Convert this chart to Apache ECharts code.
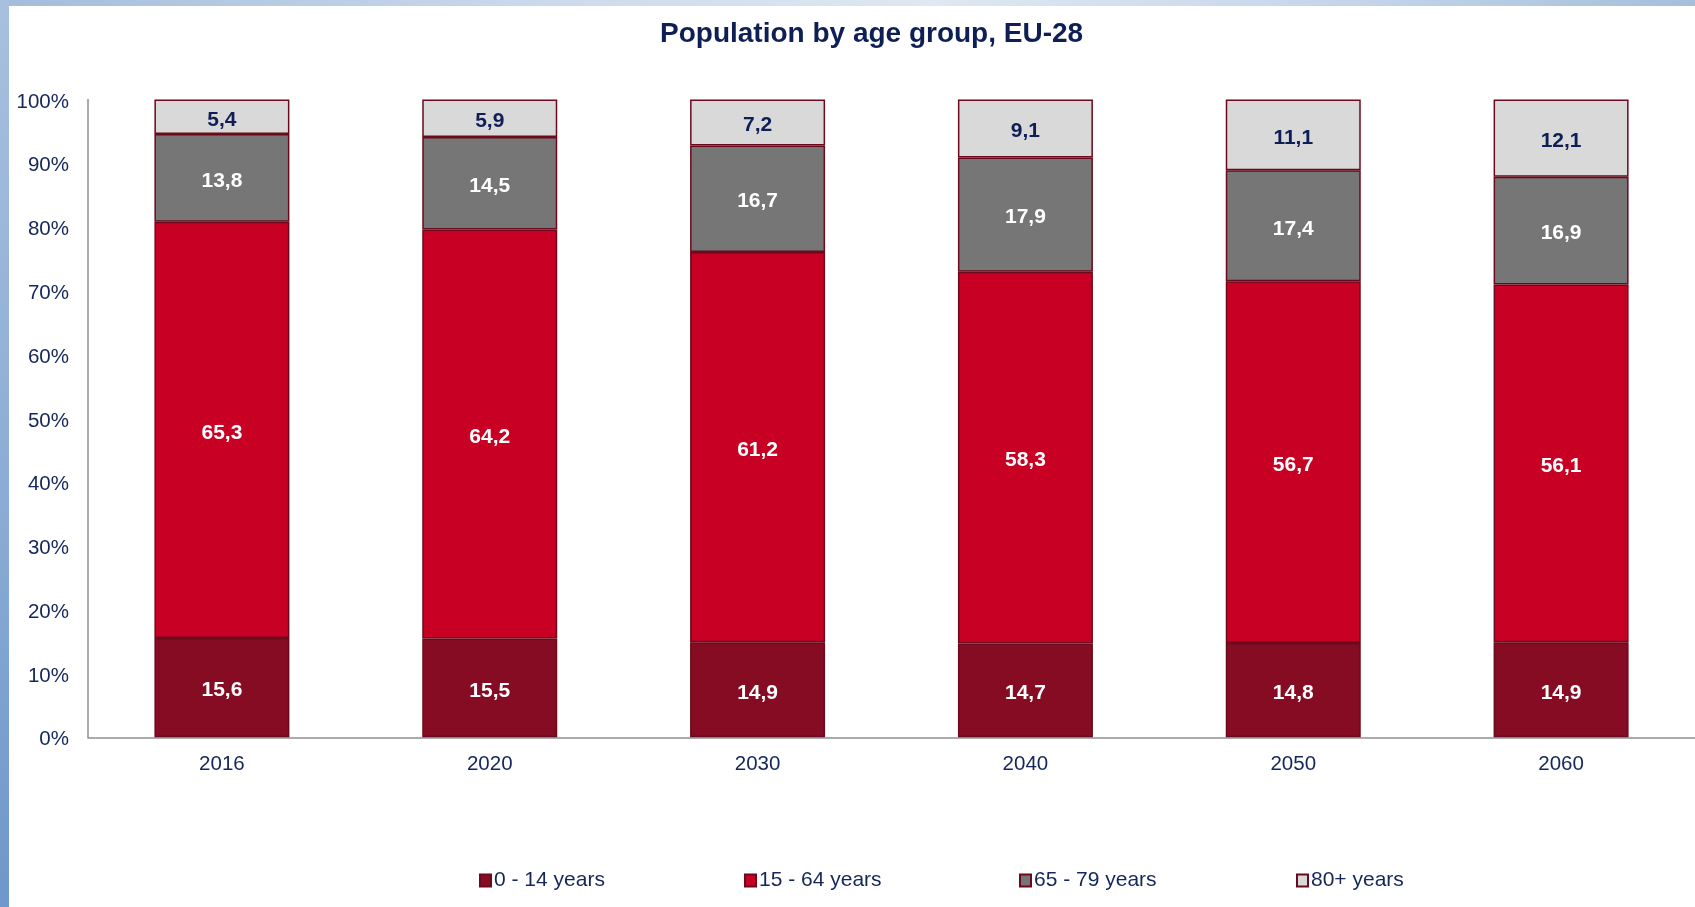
<!DOCTYPE html>
<html>
<head>
<meta charset="utf-8">
<script src="https://cdn.jsdelivr.net/npm/echarts@6/dist/echarts.min.js"></script>
<style>
  html, body { margin: 0; padding: 0; width: 1695px; height: 907px; background: #ffffff; overflow: hidden; }
  #topbar { position: absolute; left: 0; top: 0; width: 1695px; height: 6px;
    background: linear-gradient(to right, #a3bcdc 0%, #c9d8ea 30%, #dfe8f3 55%, #c4d5e9 80%, #a5bedc 100%); }
  #leftbar { position: absolute; left: 0; top: 0; width: 9px; height: 907px;
    background: linear-gradient(to bottom, #a8c0de 0%, #8eaed6 50%, #6e97cb 100%); }
  #chart { position: absolute; left: 0; top: 0; width: 1695px; height: 907px; }
</style>
</head>
<body>
<div id="topbar"></div>
<div id="leftbar"></div>
<div id="chart"></div>
<script>
const categories = ['2016', '2020', '2030', '2040', '2050', '2060'];
const seriesNames = ['0 - 14 years', '15 - 64 years', '65 - 79 years', '80+ years'];
const age0to14 = [15.6, 15.5, 14.9, 14.7, 14.8, 14.9];
const age15to64 = [65.3, 64.2, 61.2, 58.3, 56.7, 56.1];
const age65to79 = [13.8, 14.5, 16.7, 17.9, 17.4, 16.9];
const age80plus = [5.4, 5.9, 7.2, 9.1, 11.1, 12.1];
const yTicks = [0, 10, 20, 30, 40, 50, 60, 70, 80, 90, 100];

const rawSeries = [age0to14, age15to64, age65to79, age80plus];
const colors = ['#850c22', '#c80024', '#767676', '#d9d9d9'];
const labelColors = ['#ffffff', '#ffffff', '#ffffff', '#0d1f55'];
const totals = categories.map((c, i) => rawSeries.reduce((s, arr) => s + arr[i], 0));

const chart = echarts.init(document.getElementById('chart'), null, { renderer: 'canvas' });

const FONT = 'Liberation Sans, Arial, sans-serif';
const NAVY = '#14265a';

const legendLefts = [479, 744, 1019, 1296];

const option = {
  backgroundColor: 'transparent',
  animation: false,
  title: {
    text: 'Population by age group, EU-28',
    left: 660,
    top: 20,
    padding: 0,
    textStyle: { fontFamily: FONT, fontSize: 28, fontWeight: 'bold', color: '#0d1f55' }
  },
  legend: seriesNames.map((n, i) => ({
    data: [n],
    left: legendLefts[i],
    top: 870,
    padding: 0,
    itemWidth: 11,
    itemHeight: 12,
    itemGap: 0,
    icon: 'rect',
    textStyle: { fontFamily: FONT, fontSize: 21, color: NAVY, padding: [3, 0, 0, -2] }
  })),
  grid: { left: 88, right: -1, top: 99.5, bottom: 169.7, containLabel: false },
  xAxis: {
    type: 'category',
    data: categories,
    axisLine: { show: true, lineStyle: { color: '#8e8e96', width: 1.5 } },
    axisTick: { show: false },
    axisLabel: { fontFamily: FONT, fontSize: 20.5, color: NAVY, margin: 17 }
  },
  yAxis: {
    type: 'value',
    min: yTicks[0],
    max: yTicks[yTicks.length - 1],
    interval: 10,
    axisLine: { show: true, lineStyle: { color: '#8e8e96', width: 1.5 } },
    axisTick: { show: false },
    splitLine: { show: false },
    axisLabel: { fontFamily: FONT, fontSize: 20.5, color: NAVY, margin: 19, verticalAlign: 'top', lineHeight: 5, formatter: '{value}%' }
  },
  series: rawSeries.map((arr, si) => ({
    name: seriesNames[si],
    type: 'bar',
    stack: 'total',
    barWidth: 135,
    data: arr.map((v, i) => v / totals[i] * 100),
    itemStyle: { color: colors[si], borderColor: '#6a0a1c', borderWidth: 1.5 },
    label: {
      show: true,
      position: 'inside',
      offset: [0, 3],
      fontFamily: FONT,
      fontSize: 21,
      fontWeight: 'bold',
      color: labelColors[si],
      formatter: p => arr[p.dataIndex].toFixed(1).replace('.', ',')
    }
  }))
};

chart.setOption(option);
</script>
</body>
</html>
